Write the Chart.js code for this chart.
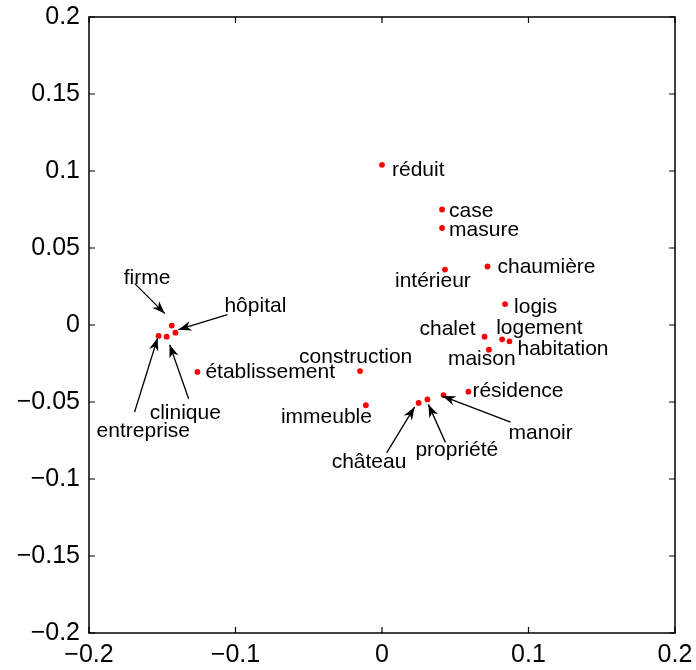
<!DOCTYPE html>
<html>
<head>
<meta charset="utf-8">
<script src="https://cdn.jsdelivr.net/npm/chart.js@4"></script>
<style>
  body { margin: 0; background: #fff; }
  #wrap { width: 696px; height: 670px; }
</style>
</head>
<body>
<div id="wrap"><canvas id="carte" width="696" height="670"></canvas></div>
<script>
"use strict"

// mots et coordonnées
const words = ["réduit", "case", "masure", "intérieur", "chaumière", "logis", "chalet", "logement",
    "habitation", "maison", "résidence", "manoir", "propriété", "château", "construction",
    "établissement", "immeuble", "firme", "hôpital", "clinique", "entreprise"]
const xVals = [0.000, 0.041, 0.041, 0.043, 0.072, 0.084, 0.070, 0.082,
    0.087, 0.073, 0.059, 0.042, 0.031, 0.025, -0.015,
    -0.126, -0.011, -0.1435, -0.141, -0.147, -0.1525]
const yVals = [0.104, 0.075, 0.063, 0.036, 0.038, 0.0136, -0.0076, -0.0093,
    -0.0106, -0.016, -0.0433, -0.0455, -0.0483, -0.0506, -0.0299,
    -0.0305, -0.0521, -0.0004, -0.005, -0.0076, -0.0071]

const xTicks = [-0.2, -0.1, 0, 0.1, 0.2]
const yTicks = [-0.2, -0.15, -0.1, -0.05, 0, 0.05, 0.1, 0.15, 0.2]

// placement des étiquettes en pixels par rapport au point: [dx, dy, align]
const placement = [[10, 11, "left"], [7, 7, "left"], [7, 8, "left"], [-50, 17, "left"], [10, 7, "left"],
    [9, 9, "left"], [-9, -2, "right"], [-6, -5, "left"], [8, 14, "left"], [-41, 15, "left"],
    [4, 5, "left"], [65, 44, "left"], [-12, 57, "left"], [-87, 65, "left"], [-61, -8, "left"],
    [8, 6, "left"], [-85, 18, "left"], [-48, -42, "left"], [49, -21, "left"], [-17, 82, "left"],
    [-62, 101, "left"]]

// flèches: [queue dx, queue dy, pointe dx, pointe dy] ou null
const arrows = [null, null, null, null, null, null, null, null, null, null, null,
    [67, 27, -1, 1], [18, 43, 1, 5], [-32, 50, -4, 4], null, null, null,
    [-37, -42, -7, -12], [52, -18, 3, -3], [22, 62, 3, 8], [-24, 76, -1, 2]]

let points = []
for (let i = 0; i < words.length; i++) {
    points.push({ x: xVals[i], y: yVals[i] })
}

function fmt(v) { // signe moins long comme dans MATLAB
    let s = String(Math.round(v * 1000) / 1000)
    return s.replace("-", "\u2212")
}

function drawArrow(ctx, x1, y1, x2, y2) {
    ctx.beginPath()
    ctx.moveTo(x1, y1)
    ctx.lineTo(x2, y2)
    ctx.stroke()
    let a = Math.atan2(y2 - y1, x2 - x1)
    let len = 13, w = 4.8
    let bx = x2 - len * Math.cos(a), by = y2 - len * Math.sin(a)
    let nx = x2 - len * 0.7 * Math.cos(a), ny = y2 - len * 0.7 * Math.sin(a)
    ctx.beginPath()
    ctx.moveTo(x2, y2)
    ctx.lineTo(bx - w * Math.sin(a), by + w * Math.cos(a))
    ctx.lineTo(nx, ny)
    ctx.lineTo(bx + w * Math.sin(a), by - w * Math.cos(a))
    ctx.closePath()
    ctx.fill()
}

const cadre = {
    id: "cadre",
    afterDraw(chart) {
        const ctx = chart.ctx
        const area = chart.chartArea
        const sx = chart.scales.x, sy = chart.scales.y
        ctx.save()
        ctx.strokeStyle = "#000"
        ctx.lineWidth = 1.5
        ctx.strokeRect(area.left, area.top, area.right - area.left, area.bottom - area.top)
        ctx.lineWidth = 1.2
        ctx.beginPath()
        xTicks.forEach(v => {
            let px = sx.getPixelForValue(v)
            ctx.moveTo(px, area.bottom); ctx.lineTo(px, area.bottom - 6)
            ctx.moveTo(px, area.top); ctx.lineTo(px, area.top + 6)
        })
        yTicks.forEach(v => {
            let py = sy.getPixelForValue(v)
            ctx.moveTo(area.left, py); ctx.lineTo(area.left + 6, py)
            ctx.moveTo(area.right, py); ctx.lineTo(area.right - 6, py)
        })
        ctx.stroke()

        // étiquettes et flèches
        ctx.fillStyle = "#000"
        ctx.font = '21px "Liberation Sans", Arial, sans-serif'
        ctx.textBaseline = "alphabetic"
        ctx.lineWidth = 1.3
        for (let i = 0; i < words.length; i++) {
            let px = sx.getPixelForValue(xVals[i])
            let py = sy.getPixelForValue(yVals[i])
            let p = placement[i]
            ctx.textAlign = p[2]
            ctx.fillText(words[i], px + p[0], py + p[1])
            let a = arrows[i]
            if (a) {
                drawArrow(ctx, px + a[0], py + a[1], px + a[2], py + a[3])
            }
        }
        ctx.restore()
    }
}

const tickFont = { family: '"Liberation Sans", Arial, sans-serif', size: 25 }

new Chart(document.getElementById("carte"), {
    type: "scatter",
    data: {
        datasets: [{
            data: points,
            backgroundColor: "#ff0000",
            borderColor: "#ff0000",
            pointRadius: 2.9,
            pointBorderWidth: 0
        }]
    },
    options: {
        responsive: false,
        animation: false,
        layout: { padding: { left: 0, top: 17, right: 21, bottom: 0 } },
        plugins: { legend: { display: false }, tooltip: { enabled: false } },
        scales: {
            x: {
                type: "linear", min: -0.2, max: 0.2,
                afterBuildTicks: s => { s.ticks = xTicks.map(v => ({ value: v })) },
                afterFit: s => { s.height = 37; s.paddingLeft = 0; s.paddingRight = 0 },
                grid: { display: false, drawTicks: false },
                border: { display: false },
                ticks: { color: "#000", font: tickFont, padding: 7, maxRotation: 0, autoSkip: false, callback: v => fmt(v) }
            },
            y: {
                type: "linear", min: -0.2, max: 0.2,
                afterBuildTicks: s => { s.ticks = yTicks.map(v => ({ value: v })) },
                afterFit: s => { s.width = 89; s.paddingTop = 0; s.paddingBottom = 0 },
                grid: { display: false, drawTicks: false },
                border: { display: false },
                ticks: { color: "#000", font: tickFont, padding: 9, autoSkip: false, callback: v => fmt(v) }
            }
        }
    },
    plugins: [cadre]
})
</script>
</body>
</html>
